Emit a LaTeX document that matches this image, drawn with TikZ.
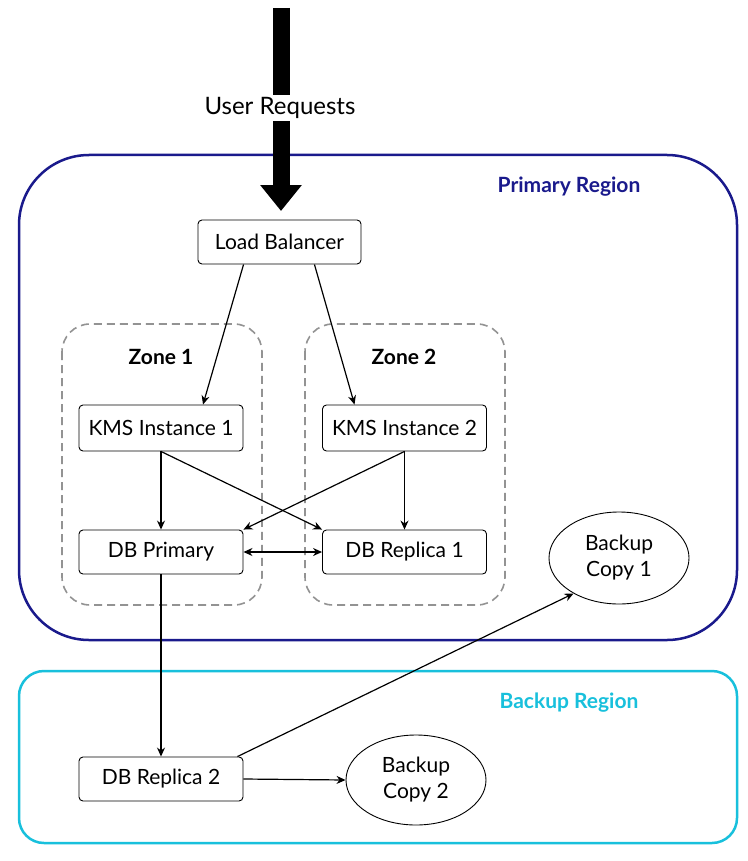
\documentclass[tikz,border=0pt]{standalone}
\usepackage{fontspec}
\setmainfont{Lato}
\usetikzlibrary{shapes.geometric,arrows.meta}
\definecolor{navy}{HTML}{1A1A8C}
\definecolor{cyanb}{HTML}{18C0DC}
\begin{document}
\begin{tikzpicture}[x=1pt,y=-1pt,
  box/.style={draw,line width=0.9pt,rounded corners=4pt,minimum width=164pt,minimum height=44pt,font=\fontsize{21}{24}\selectfont,inner sep=0},
  ell/.style={draw,line width=0.9pt,ellipse,minimum width=140pt,minimum height=92pt,align=center,font=\fontsize{21}{26}\selectfont},
  zone/.style={draw=gray!85,dashed,dash pattern=on 8pt off 5pt,line width=1.6pt,rounded corners=28pt},
  arr/.style={-{Stealth[length=9pt,width=8pt]},line width=1.2pt},
  lbl/.style={font=\bfseries\fontsize{21}{24}\selectfont}]
\useasboundingbox (0,0) rectangle (747,861);
\fill[white] (0,0) rectangle (747,861);
% regions
\draw[navy,line width=2.5pt,rounded corners=70pt] (19,155) rectangle (737,640);
\node[lbl,text=navy] (pr) at (569,187) {Primary Region};
\draw[cyanb,line width=2.5pt,rounded corners=25pt] (19,671) rectangle (737,843);
\node[lbl,text=cyanb] (br) at (569,703) {Backup Region};
% zones
\draw[zone] (62,324) rectangle (262,605);
\draw[zone] (305,324) rectangle (505,605);
\node[lbl] (z1) at (161,357) {Zone 1};
\node[lbl] (z2) at (404,357) {Zone 2};
% user arrow
\coordinate (ustart) at (281,8);
\coordinate (uend) at (281,211);
\draw[line width=17pt,-{Triangle[length=26pt,width=40pt]}] (ustart) -- (uend);
\node[fill=white,font=\fontsize{24}{28}\selectfont,inner sep=2pt] (ur) at (280,108) {User Requests};
% nodes
\node[box,minimum width=163pt] (lb) at (279.5,242) {Load Balancer};
\node[box,minimum height=46pt] (k1) at (161,428) {KMS Instance 1};
\node[box,minimum height=46pt] (k2) at (404.5,428) {KMS Instance 2};
\node[box] (dp) at (161,552) {DB Primary};
\node[box] (r1) at (404.5,552) {DB Replica 1};
\node[box] (r2) at (161,779) {DB Replica 2};
\node[ell] (b1) at (619,558) {Backup\\Copy 1};
\node[ell,minimum height=90pt] (b2) at (416,780) {Backup\\Copy 2};
% connectors
\draw[arr] (lb.south west)++(46,0) -- ([xshift=42pt]k1.north);
\draw[arr] (lb.south east)++(-47,0) -- ([xshift=-50pt]k2.north);
\draw[arr] (k1.south) -- (dp.north);
\draw[arr] (k1.south) -- (r1.north west);
\draw[arr] (k2.south) -- (r1.north);
\draw[arr] (k2.south) -- (dp.north east);
\draw[{Stealth[length=9pt,width=8pt]}-{Stealth[length=9pt,width=8pt]},line width=1.2pt] (dp.east) -- (r1.west);
\draw[arr] (dp.south) -- (r2.north);
\draw[arr] ([xshift=-6pt]r2.north east) -- (b1.218);
\draw[arr] (r2.east) -- (b2.west);
\end{tikzpicture}
\end{document}
